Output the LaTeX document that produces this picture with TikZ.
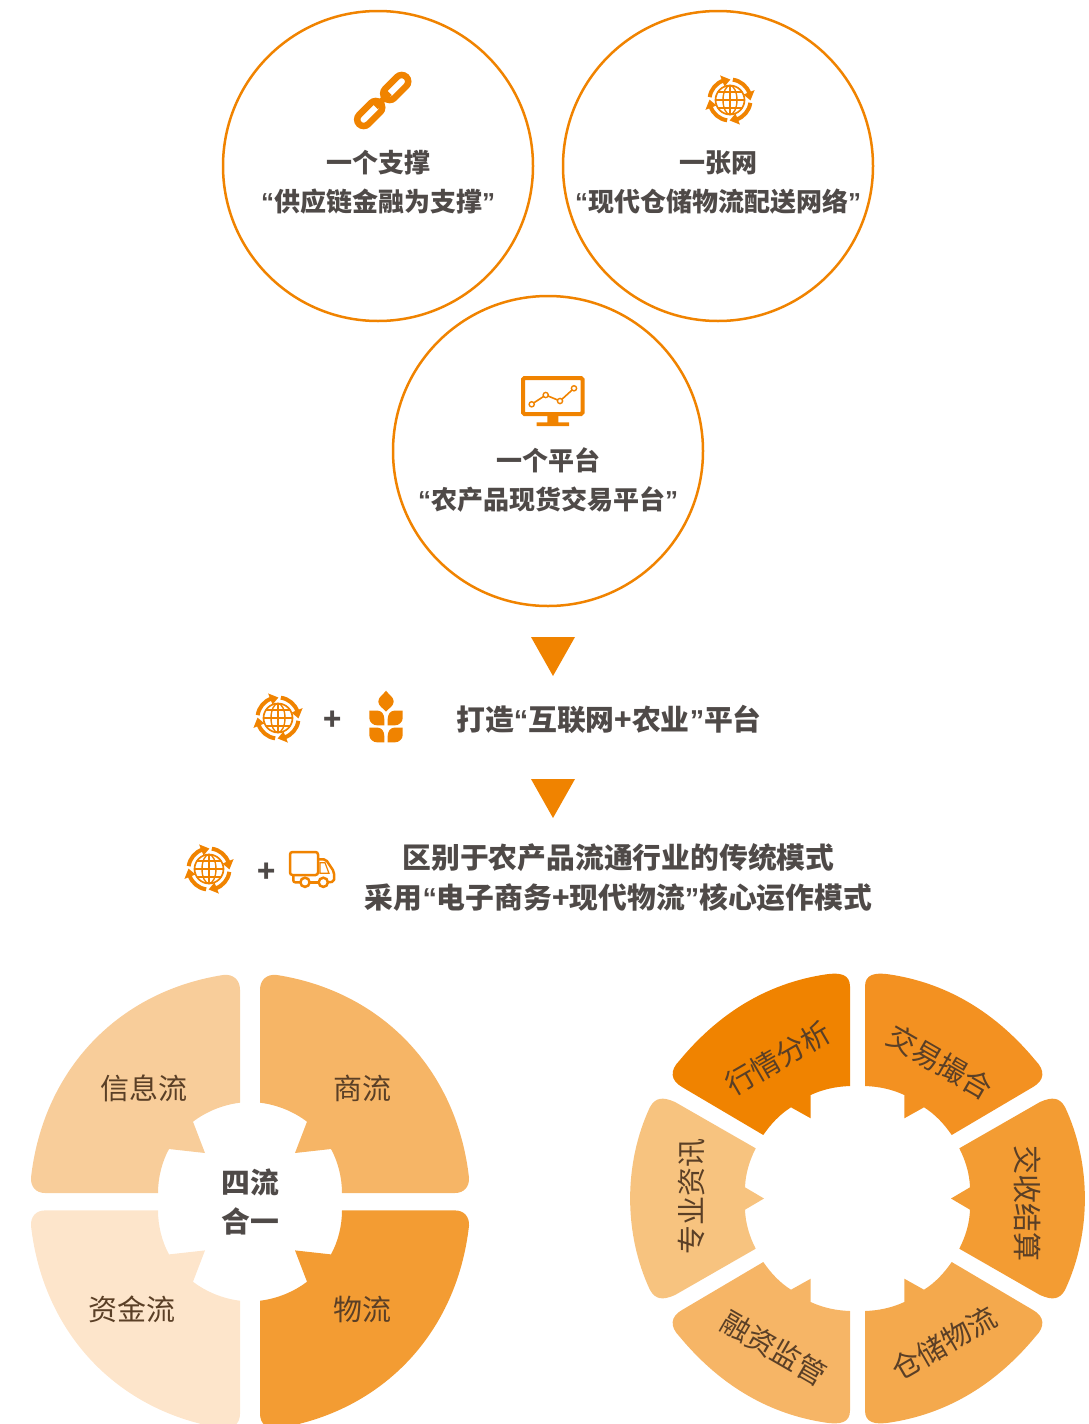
\documentclass[tikz,border=0pt]{standalone}
\usepackage{fontspec}
\newfontfamily\cjkfont{Noto Sans CJK SC}
\newfontfamily\quotefont{Liberation Sans}
\newcommand{\openq}{{\quotefont\bfseries “}}
\newcommand{\closeq}{{\quotefont\bfseries ”}}
\definecolor{mainorange}{HTML}{F08300}
\definecolor{inkgrey}{HTML}{4F4A48}
\definecolor{inkbrown}{HTML}{5A3F26}
\definecolor{infocolor}{HTML}{F8CD9A}
\definecolor{tradecolor}{HTML}{F6B566}
\definecolor{moneycolor}{HTML}{FDE5CB}
\definecolor{goodscolor}{HTML}{F39C33}
\definecolor{dealcolor}{HTML}{F39121}
\definecolor{storecolor}{HTML}{F4A94D}
\definecolor{newscolor}{HTML}{F7C37F}
\tikzset{
	ring/.style={circle, draw=mainorange, line width=2.5pt, minimum size=310pt, inner sep=0pt},
	headtext/.style={font=\cjkfont\bfseries\fontsize{26}{26}\selectfont, text=inkgrey, inner sep=0pt, node distance=39pt},
	bigtext/.style={font=\cjkfont\bfseries\fontsize{28.8}{28.8}\selectfont, text=inkgrey, inner sep=0pt, node distance=40pt},
	plustext/.style={font=\cjkfont\bfseries\fontsize{30}{30}\selectfont, text=inkgrey, inner sep=0pt},
	flowtext/.style={font=\cjkfont\fontsize{29}{29}\selectfont, text=inkbrown, inner sep=0pt},
	globeicon/.pic={
		\draw[mainorange, line width=1.7pt] (0,0) circle (14.5);
		\draw[mainorange, line width=1.4pt] (0,0) ellipse (7 and 14.5);
		\draw[mainorange, line width=1.4pt] (0,-14.5) -- (0,14.5) (-14.5,0) -- (14.5,0);
		\draw[mainorange, line width=1.4pt] (-12,-8) -- (12,-8) (-12,8) -- (12,8);
		\foreach \a in {0,90,180,270} {
			\draw[mainorange, line width=4pt] (\a+8:20.5) arc (\a+8:\a+72:20.5);
			\fill[mainorange] (\a+68:26.5) -- (\a+91:20.5) -- (\a+68:14.5) -- cycle;
		}
	},
	chainicon/.pic={
		\draw[mainorange, line width=6.5pt, rounded corners=6.5pt, rotate around={45:(-13,13.5)}] (-28,7) rectangle (2,20);
		\draw[mainorange, line width=6.5pt, rounded corners=6.5pt, rotate around={45:(13,-12.5)}] (-2,-19) rectangle (28,-6);
		\draw[mainorange, line width=6pt] (-7,7) -- (7,-7);
	},
	screenicon/.pic={
		\draw[mainorange, line width=4pt, rounded corners=1.5pt] (-30,-24) rectangle (29.5,12);
		\fill[mainorange] (-5.7,14) rectangle (5.3,20.3) (-16.3,20.3) rectangle (16,24);
		\draw[mainorange, line width=1.6pt] (-21.3,2.3) -- (-7.3,-7) -- (7,-1) -- (21,-13.7);
		\foreach \p in {(-21.3,2.3),(-7.3,-7),(7,-1),(21,-13.7)}
			\draw[mainorange, line width=1.4pt, fill=white] \p circle (2.6);
	},
	wheaticon/.pic={
		\fill[mainorange] (0,-27.3) .. controls (3,-23) and (7.7,-21) .. (7.7,-16.5) .. controls (7.7,-12) and (3,-10) .. (0,-6.3) .. controls (-3,-10) and (-7.7,-12) .. (-7.7,-16.5) .. controls (-7.7,-21) and (-3,-23) .. (0,-27.3) -- cycle;
		\foreach \s in {1,-1} \foreach \y in {0,17} {
			\fill[mainorange, xscale=\s, yshift=-\y pt] (16.7,-7.3) -- (8,-7.3) .. controls (4,-7.3) and (1.7,-3) .. (1.7,1) -- (1.7,7.3) -- (9,7.3) .. controls (13,7.3) and (16.7,4) .. (16.7,0) -- cycle;
		}
	},
	truckicon/.pic={
		\draw[mainorange, line width=2.5pt, rounded corners=2.5pt] (-23,-18) rectangle (5,5);
		\draw[mainorange, line width=2.5pt, rounded corners=2pt] (5,-10.7) -- (12.7,-10.7) -- (21,1.7) -- (21,11.7) -- (15,12.3);
		\draw[mainorange, line width=2.5pt, rounded corners=2pt] (-19.7,5) -- (-19.7,12.3) -- (-13,12.3);
		\draw[mainorange, line width=2.5pt] (-3,12.3) -- (5.5,12.3);
		\draw[mainorange, line width=2.5pt] (-8,12.3) circle (4.6) (10.3,12.3) circle (4.6);
		\draw[mainorange, line width=1.2pt] (7,-7.3) -- (12,-7.3) -- (16,3.3) -- (7,3.3) -- cycle;
	},
	quadrant/.pic={
		\path[pic actions] (10,-99) .. controls (27,-97) and (44,-90) .. (57,-80) -- (45,-48.7) -- (81,-52.7) .. controls (88,-40) and (92,-24) .. (92,-8.7) -- (205,-8.7) .. controls (214,-8.7) and (219.5,-15) .. (219,-24) .. controls (207,-131) and (133,-210) .. (27,-226.7) .. controls (17,-228) and (10,-222) .. (10,-212) -- cycle;
	},
	wedge/.pic={
		\path[pic actions] (7.5,-112.5) .. controls (22,-112) and (35,-109) .. (46.8,-103.5) -- (46.8,-80.2) -- (66.5,-91.2) .. controls (78,-84) and (87,-74) .. (94.2,-63.5) -- (175.5,-111.5) .. controls (187,-118) and (188,-128) .. (178,-138) .. controls (135,-190) and (85,-216) .. (32.5,-224) .. controls (17,-226.5) and (7.5,-224) .. (7.5,-212) -- cycle;
	},
	sidewedge/.pic={
		\path[pic actions] (101.8,-50.2) .. controls (108,-38) and (112,-25) .. (112.5,-11.2) -- (93.5,0) -- (112.5,11.2) .. controls (112,25) and (108,38) .. (101.8,50.2) -- (182.5,96.5) .. controls (195,102) and (202,101) .. (207.5,91.5) .. controls (234,35) and (234,-35) .. (207.5,-91.5) .. controls (202,-101) and (195,-102) .. (182.5,-96.5) -- cycle;
	}
}
\begin{document}
\begin{tikzpicture}[x=1pt, y=-1pt]
	\useasboundingbox (0,0) rectangle (1088,1424);

	\node[ring] (chainring) at (378,166) {};
	\node[ring] (netring) at (718,166) {};
	\node[ring] (screenring) at (548,451) {};

	\pic (chain) at (382.7,100) {chainicon};
	\pic (netglobe) at (730,100) {globeicon};
	\pic (screen) at (553,402) {screenicon};

	\node[headtext] (chainhead) at (378,163) {一个支撑};
	\node[headtext] (chainsub) [below of=chainhead] {\openq 供应链金融为支撑\closeq};
	\node[headtext] (nethead) at (718,163) {一张网};
	\node[headtext] (netsub) [below of=nethead] {\openq 现代仓储物流配送网络\closeq};
	\node[headtext] (screenhead) at (548,460) {一个平台};
	\node[headtext] (screensub) [below of=screenhead] {\openq 农产品现货交易平台\closeq};

	\fill[mainorange] (531,637) -- (575,637) -- (553,676) -- cycle;
	\fill[mainorange] (531,779) -- (575,779) -- (553,818) -- cycle;

	\pic (farmglobe) at (278,718) {globeicon};
	\node[plustext] (farmplus) at (332.5,720.5) {+};
	\pic (wheat) at (386,718) {wheaticon};
	\node[bigtext] (farmtext) at (609,719.5) {打造\openq 互联网+农业\closeq 平台};

	\pic (truckglobe) at (209,869) {globeicon};
	\node[plustext] (truckplus) at (266.5,872.5) {+};
	\pic (truck) at (313,870) {truckicon};
	\node[bigtext] (modetop) at (618.5,858) {区别于农产品流通行业的传统模式};
	\node[bigtext] (modelow) [below of=modetop] {采用\openq 电子商务+现代物流\closeq 核心运作模式};

	\pic[fill=infocolor, xscale=-1] (infoflow) at (250,1201.7) {quadrant};
	\pic[fill=tradecolor] (tradeflow) at (250,1201.7) {quadrant};
	\pic[fill=moneycolor, xscale=-1, yscale=-1] (moneyflow) at (250,1201.7) {quadrant};
	\pic[fill=goodscolor, yscale=-1] (goodsflow) at (250,1201.7) {quadrant};
	\node[flowtext] (infotext) at (144,1088) {信息流};
	\node[flowtext] (tradetext) at (362,1088) {商流};
	\node[flowtext] (moneytext) at (132,1309) {资金流};
	\node[flowtext] (goodstext) at (362,1309) {物流};
	\node[bigtext] (mergetop) at (250,1182.5) {四流};
	\node[bigtext, node distance=39pt] (mergelow) [below of=mergetop] {合一};

	\pic[fill=mainorange, xscale=-1] (quotewedge) at (857.5,1198.5) {wedge};
	\pic[fill=dealcolor] (dealwedge) at (857.5,1198.5) {wedge};
	\pic[fill=goodscolor] (settlewedge) at (857.5,1198.5) {sidewedge};
	\pic[fill=storecolor, yscale=-1] (storewedge) at (857.5,1198.5) {wedge};
	\pic[fill=tradecolor, xscale=-1, yscale=-1] (loanwedge) at (857.5,1198.5) {wedge};
	\pic[fill=newscolor, xscale=-1] (newswedge) at (857.5,1198.5) {sidewedge};
	\node[flowtext, rotate=30] (quotetext) at (778,1058) {行情分析};
	\node[flowtext, rotate=-30] (dealtext) at (940,1062) {交易撮合};
	\node[flowtext, rotate=-90] (settletext) at (1028,1203) {交收结算};
	\node[flowtext, rotate=30] (storetext) at (944,1343) {仓储物流};
	\node[flowtext, rotate=-30] (loantext) at (774,1348) {融资监管};
	\node[flowtext, rotate=90] (newstext) at (691.5,1196) {专业资讯};
\end{tikzpicture}
\end{document}
